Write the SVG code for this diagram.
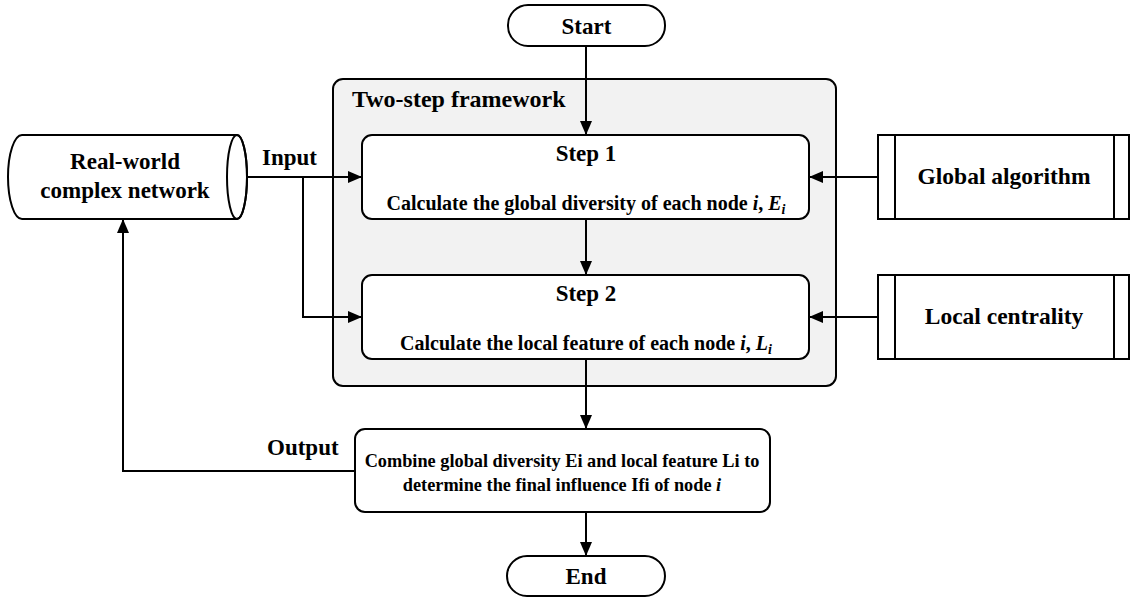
<svg xmlns="http://www.w3.org/2000/svg" width="1130" height="603" viewBox="0 0 1130 603">
<style>
.s{fill:#fff;stroke:#000;stroke-width:2}
.t{font-family:"Liberation Serif","Times New Roman",serif;font-weight:bold;fill:#000}
.big{font-size:23px}
.mid{font-size:20px}
.sm{font-size:18.3px}
.c{text-anchor:middle}
.ln{fill:none;stroke:#000;stroke-width:2}
</style>
<defs>
<marker id="ah" markerWidth="14" markerHeight="12" refX="13" refY="6" orient="auto" markerUnits="userSpaceOnUse">
<path d="M0,0 L14,6 L0,12 z" fill="#000"/>
</marker>
</defs>
<rect x="0" y="0" width="1130" height="603" fill="#fff"/>
<g id="framework">
<rect x="333" y="79" width="503" height="307" rx="10" fill="#f2f2f2" stroke="#000" stroke-width="2"/>
<text class="t" font-size="24" x="352" y="107">Two-step framework</text>
</g>
<g id="start">
<rect class="s" x="508" y="5" width="157" height="41" rx="20"/>
<text class="t big c" x="586.5" y="34">Start</text>
</g>
<g id="step1">
<rect class="s" x="362" y="135" width="447" height="84" rx="10"/>
<text class="t big c" x="586" y="161">Step 1</text>
<text class="t mid c" x="586" y="210">Calculate the global diversity of each node <tspan font-style="italic">i</tspan>, <tspan font-style="italic">E</tspan><tspan font-size="14" font-style="italic" dy="4">i</tspan></text>
</g>
<g id="step2">
<rect class="s" x="362" y="275" width="447" height="84" rx="10"/>
<text class="t big c" x="586" y="301">Step 2</text>
<text class="t mid c" x="586" y="350">Calculate the local feature of each node <tspan font-style="italic">i</tspan>, <tspan font-style="italic">L</tspan><tspan font-size="14" font-style="italic" dy="4">i</tspan></text>
</g>
<g id="combine">
<rect class="s" x="355" y="429" width="415" height="83" rx="10"/>
<text class="t sm c" x="562" y="467">Combine global diversity Ei and local feature Li to</text>
<text class="t sm c" x="562" y="491">determine the final influence Ifi of node <tspan font-style="italic">i</tspan></text>
</g>
<g id="end">
<rect class="s" x="507" y="556" width="158" height="40" rx="20"/>
<text class="t big c" x="586" y="584">End</text>
</g>
<g id="network">
<path class="s" d="M22,135 L237,135 A10,42 0 0 1 237,219 L22,219 A14,42 0 0 1 22,135 Z"/>
<ellipse cx="237" cy="177" rx="10" ry="42" fill="none" stroke="#000" stroke-width="2"/>
<text class="t big c" x="125" y="169">Real-world</text>
<text class="t big c" x="125" y="198">complex network</text>
</g>
<g id="global">
<rect class="s" x="878" y="135" width="251" height="84"/>
<line x1="895" y1="135" x2="895" y2="219" stroke="#000" stroke-width="2"/>
<line x1="1114" y1="135" x2="1114" y2="219" stroke="#000" stroke-width="2"/>
<text class="t c" font-size="23.5" x="1004" y="184">Global algorithm</text>
</g>
<g id="local">
<rect class="s" x="878" y="275" width="251" height="84"/>
<line x1="895" y1="275" x2="895" y2="359" stroke="#000" stroke-width="2"/>
<line x1="1114" y1="275" x2="1114" y2="359" stroke="#000" stroke-width="2"/>
<text class="t c" font-size="23.5" x="1004" y="324">Local centrality</text>
</g>
<g id="connectors">
<line class="ln" x1="586" y1="46" x2="586" y2="134" marker-end="url(#ah)"/>
<line class="ln" x1="586" y1="219" x2="586" y2="274" marker-end="url(#ah)"/>
<line class="ln" x1="586" y1="359" x2="586" y2="428" marker-end="url(#ah)"/>
<line class="ln" x1="586" y1="512" x2="586" y2="555" marker-end="url(#ah)"/>
<line class="ln" x1="247" y1="177" x2="361" y2="177" marker-end="url(#ah)"/>
<polyline class="ln" points="303,177 303,317 361,317" marker-end="url(#ah)"/>
<line class="ln" x1="878" y1="177" x2="810" y2="177" marker-end="url(#ah)"/>
<line class="ln" x1="878" y1="317" x2="810" y2="317" marker-end="url(#ah)"/>
<polyline class="ln" points="355,471 123,471 123,220" marker-end="url(#ah)"/>
<text class="t big" x="262" y="165">Input</text>
<text class="t big" x="267" y="455">Output</text>
</g>
</svg>
